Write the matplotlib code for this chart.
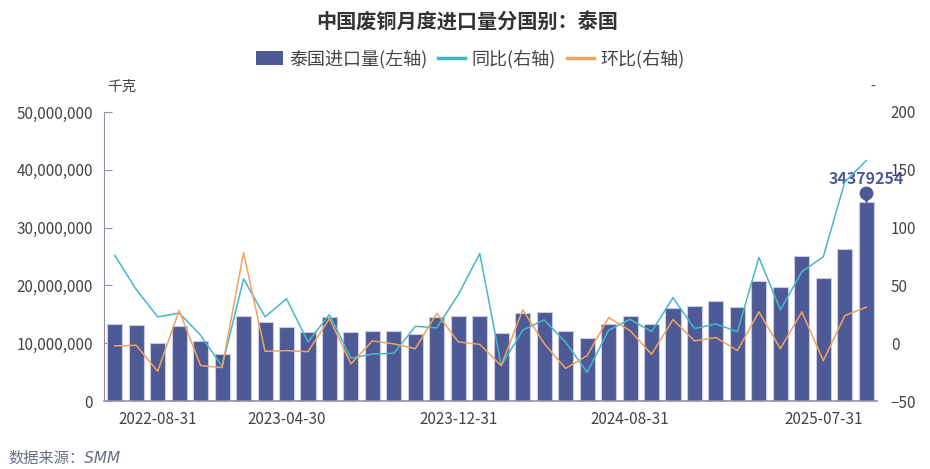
import numpy as np
import matplotlib.pyplot as plt
from matplotlib.patches import Patch
from matplotlib.lines import Line2D
import matplotlib.transforms as mtransforms

plt.rcParams['font.family'] = ['Noto Sans CJK SC', 'DejaVu Sans']

# months (Jan/Feb missing in 2023 and 2025)
dates = ['2022-06-30', '2022-07-31', '2022-08-31', '2022-09-30', '2022-10-31', '2022-11-30', '2022-12-31',
         '2023-03-31', '2023-04-30', '2023-05-31', '2023-06-30', '2023-07-31', '2023-08-31', '2023-09-30',
         '2023-10-31', '2023-11-30', '2023-12-31',
         '2024-01-31', '2024-02-29', '2024-03-31', '2024-04-30', '2024-05-31', '2024-06-30', '2024-07-31',
         '2024-08-31', '2024-09-30', '2024-10-31', '2024-11-30', '2024-12-31',
         '2025-03-31', '2025-04-30', '2025-05-31', '2025-06-30', '2025-07-31', '2025-08-31', '2025-09-30']

# imports, kg
imports = [13.4e6, 13.2e6, 10.05e6, 12.9e6, 10.45e6, 8.2e6, 14.7e6,
           13.7e6, 12.85e6, 11.96e6, 14.56e6, 11.9e6, 12.18e6, 12.18e6,
           11.55e6, 14.56e6, 14.78e6,
           14.73e6, 11.78e6, 15.3e6, 15.48e6, 12.18e6, 10.85e6, 13.28e6,
           14.73e6, 13.34e6, 16.1e6, 16.52e6, 17.33e6,
           16.22e6, 20.68e6, 19.76e6, 25.13e6, 21.25e6, 26.27e6, 34379254]

# year-on-year, %
yoy = [76, 46.5, 22.8, 26, 6.9, -20, 55.7,
       22.8, 38.4, 1.1, 24.8, -13.1, -9.3, -8.8,
       14.6, 13.3, 42,
       77.6, -19.4, 11.2, 20.2, 0.8, -25.2, 11.2,
       20.7, 10, 39.3, 12.7, 16.7,
       10, 74.2, 28.9, 61.8, 74.8, 139.5, 158]

# month-on-month, %
mom = [-2.3, -1.8, -24.3, 28.3, -19.4, -21.1, 78.3,
       -7, -6.4, -7.3, 21.3, -17.9, 2, -0.6,
       -4.7, 25.9, 1.1,
       -1, -19.4, 28.9, -0.3, -21.8, -10.7, 22.2,
       10.9, -9.6, 20.5, 2, 4.9,
       -6.4, 27.1, -4.7, 27.1, -15.1, 23.9, 31.1]

shown_labels = ['2022-08-31', '2023-04-30', '2023-12-31', '2024-08-31', '2025-07-31']

bar_color = '#4e5a96'
yoy_color = '#45b7cb'
mom_color = '#f1a35f'
text_color = '#444444'
axis_color = '#8d92a6'

fig = plt.figure(figsize=(9.3, 4.69), dpi=100)
ax = fig.add_axes([104 / 930, 1 - 401 / 469, (877 - 104) / 930, (401 - 112) / 469])
ax2 = ax.twinx()

x = np.arange(len(dates))
ax.bar(x, imports, width=0.7, color=bar_color, edgecolor='#c9cbe0', linewidth=0.8, zorder=2)
ax2.plot(x, yoy, color=yoy_color, linewidth=1.1, zorder=3)
ax2.plot(x, mom, color=mom_color, linewidth=1.1, zorder=3)

ax.set_xlim(-0.5, len(dates) - 0.5)
ax.set_ylim(0, 50e6)
ax.set_yticks(np.arange(0, 50e6 + 1, 10e6))
ax.set_yticklabels([f'{int(v):,}' for v in np.arange(0, 50e6 + 1, 10e6)])
ax2.set_ylim(-50, 200)
ax2.set_yticks(np.arange(-50, 201, 50))

ax.set_xticks([dates.index(d) for d in shown_labels])
ax.set_xticklabels(shown_labels)

for s in ['top', 'right']:
    ax.spines[s].set_visible(False)
for s in ['top', 'right', 'left', 'bottom']:
    ax2.spines[s].set_visible(False)
ax.spines['left'].set_color(axis_color)
ax.spines['bottom'].set_color(axis_color)
ax.spines['bottom'].set_linewidth(1.2)
ax.tick_params(axis='y', direction='in', length=6, color=axis_color, labelsize=11,
               labelcolor=text_color, pad=8)
ax.tick_params(axis='x', length=0, labelsize=11, labelcolor=text_color, pad=7)
ax2.tick_params(axis='y', length=0, labelsize=11, labelcolor=text_color, pad=10)

# max marker
imax = int(np.argmax(imports))
pin = mtransforms.offset_copy(ax.transData, fig=fig, x=0, y=7, units='points')
ax.plot(imax, imports[imax], marker='o', markersize=9, color=bar_color, transform=pin, zorder=4)
tri = mtransforms.offset_copy(ax.transData, fig=fig, x=0, y=3, units='points')
ax.plot(imax, imports[imax], marker='v', markersize=6, color=bar_color, transform=tri, zorder=4)
ax.annotate(f'{imports[imax]}', xy=(imax, imports[imax]), xytext=(0, 11),
            textcoords='offset points', ha='center', va='bottom',
            fontsize=11.5, fontweight='bold', color=bar_color, zorder=5)

fig.text(467 / 930, 1 - 22 / 469, '中国废铜月度进口量分国别：泰国', ha='center', va='center',
         fontsize=14.5, fontweight='bold', color='#333333')
fig.text(107 / 930, 1 - 87 / 469, '千克', ha='left', va='center', fontsize=10.5, color=text_color)
fig.text(873 / 930, 1 - 87 / 469, '-', ha='center', va='center', fontsize=10.5, color=text_color)
fig.text(8 / 930, 1 - 458 / 469, '数据来源：SMM', ha='left', va='center', fontsize=11,
         style='italic', color='#6a6f82', family=['DejaVu Sans', 'Noto Sans CJK SC'])

handles = [Patch(facecolor=bar_color, edgecolor='none'),
           Line2D([], [], color=yoy_color, linewidth=2.5),
           Line2D([], [], color=mom_color, linewidth=2.5)]
fig.legend(handles, ['泰国进口量(左轴)', '同比(右轴)', '环比(右轴)'], loc='center',
           bbox_to_anchor=(470 / 930, 1 - 59 / 469), ncol=3, frameon=False, fontsize=13,
           handlelength=1.5, handleheight=0.8, handletextpad=0.35, columnspacing=0.6,
           labelcolor=text_color)

fig.savefig('out.png', dpi=100)
